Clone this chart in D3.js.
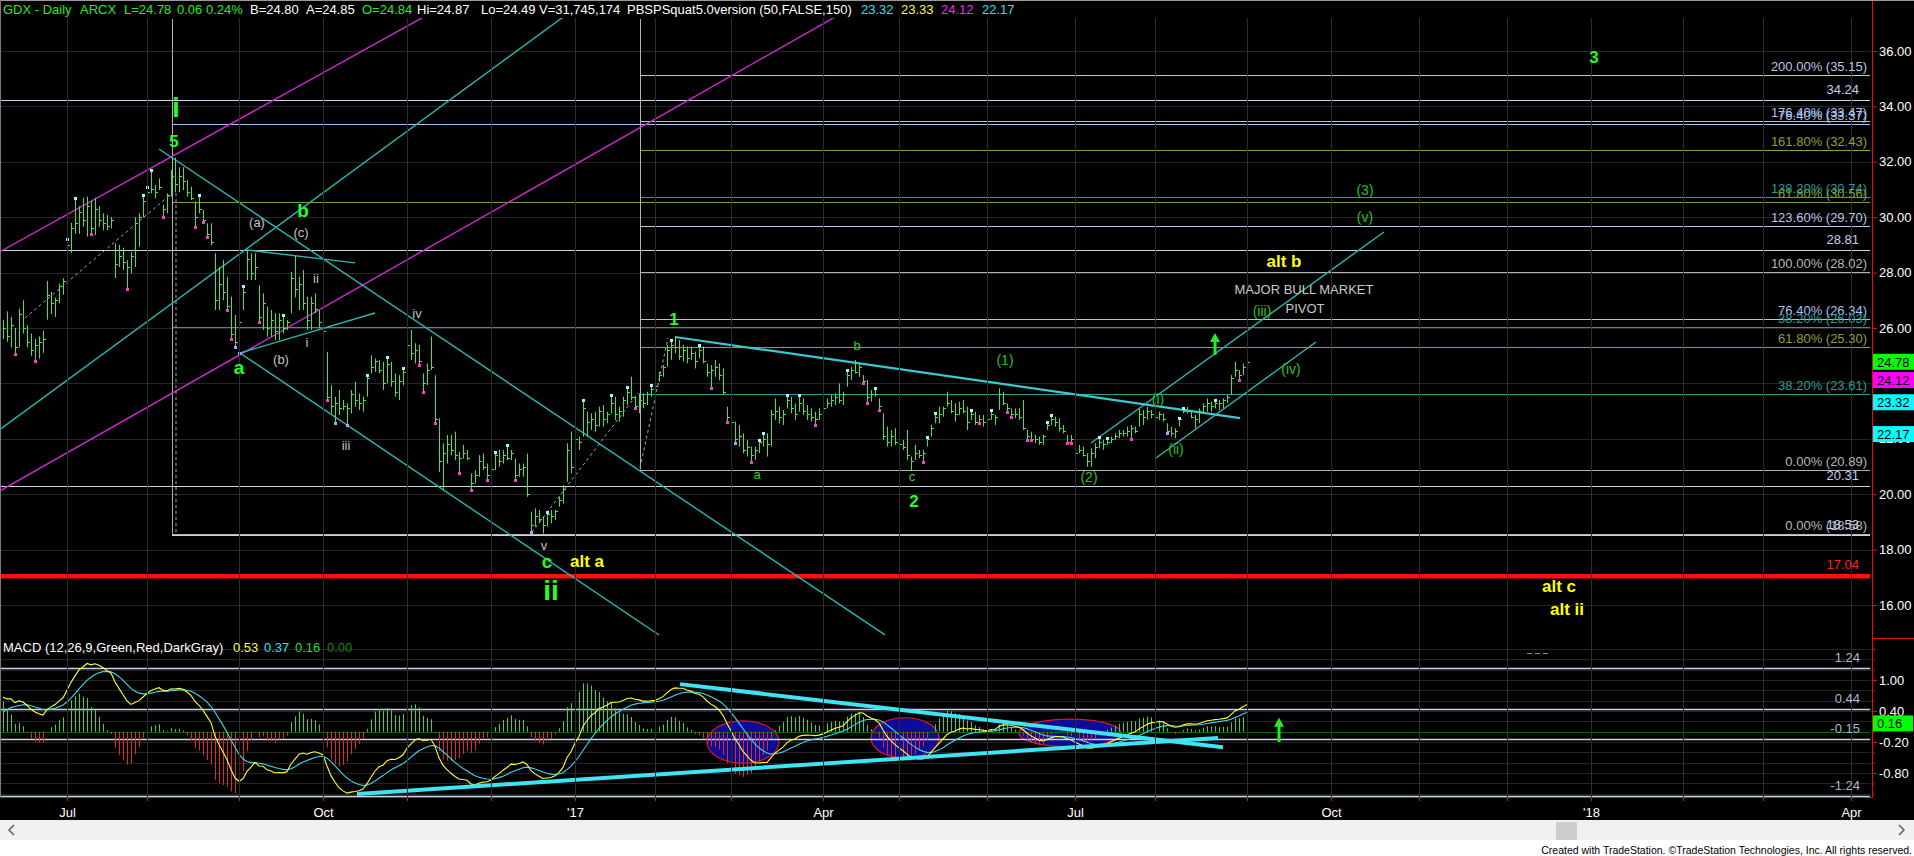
<!DOCTYPE html>
<html><head><meta charset="utf-8">
<script src="https://cdn.jsdelivr.net/npm/d3@7"></script>
<style>
html,body{margin:0;padding:0;background:#000;overflow:hidden}
svg{display:block}
text{font-family:"Liberation Sans",Arial,sans-serif}
</style></head><body>
<svg id="c" width="1914" height="856"></svg>
<script>
// ---------------- DATA ----------------
// daily bars, index 0 = 9 Jun 2016 ... index 311 = 1 Sep 2017
const highs=[26.3,26.6,26.4,26.0,26.7,27.0,26.1,25.8,25.6,25.7,
25.9,27.7,27.3,27.1,27.6,27.8,29.2,29.8,30.7,30.4,
30.7,30.74,30.6,30.7,30.4,30.14,30.08,30.0,29.05,29.0,
28.9,28.45,28.75,30.0,30.14,30.8,31.1,31.7,31.16,31.4,
30.44,30.86,31.7,32.15,31.8,31.8,31.34,31.1,30.56,30.8,
30.26,29.78,29.78,28.7,28.2,28.45,27.85,27.13,26.47,26.41,
27.5,28.81,28.7,28.7,27.55,27.25,26.77,26.65,26.53,26.53,
26.47,26.29,28.03,28.6,27.85,28.09,27.13,27.13,27.25,26.65,
26.53,25.14,23.94,23.52,23.76,23.4,23.28,23.76,24.06,23.64,
23.52,24.3,25.02,24.9,24.84,24.78,24.96,24.78,24.36,24.3,
24.54,25.63,25.93,25.45,25.39,24.36,24.72,25.69,24.3,22.74,
21.84,22.14,22.14,22.26,21.53,21.78,21.6,20.75,20.87,21.41,
21.47,21.11,21.11,21.53,21.6,21.6,21.78,21.6,21.29,21.11,
21.11,21.47,19.37,19.49,19.43,19.19,19.37,19.43,19.43,19.91,
20.33,21.84,22.26,22.14,22.08,23.4,22.98,22.92,22.98,23.16,
23.22,22.98,23.58,23.52,23.16,23.52,23.88,24.24,23.52,23.64,
23.64,23.7,23.94,24.0,24.42,24.66,25.39,25.57,25.69,25.57,
25.39,25.33,25.33,25.15,25.39,25.33,24.72,24.66,24.85,24.72,
24.54,23.16,23.04,22.62,22.5,22.2,21.96,21.72,21.72,21.96,
22.2,22.2,23.04,23.46,23.16,23.04,23.58,23.52,23.28,23.58,
23.46,23.22,23.1,22.98,23.1,23.22,23.46,23.58,23.64,24.0,
23.7,24.48,24.6,24.85,24.72,24.3,24.12,23.76,23.82,23.46,
22.92,22.44,22.32,22.38,22.26,21.96,22.32,21.36,21.78,21.6,
21.6,22.08,22.5,22.92,23.16,23.16,23.7,23.4,23.28,23.34,
23.4,23.16,23.04,22.98,22.86,22.86,22.8,23.04,22.86,23.82,
23.7,23.28,23.1,23.1,23.1,23.4,22.32,22.26,22.14,22.08,
22.14,22.62,22.86,22.8,22.74,22.5,22.14,22.14,21.78,21.78,
21.72,21.48,21.66,21.84,22.08,21.96,22.02,22.08,22.2,22.32,
22.32,22.44,22.5,22.44,23.1,23.04,23.16,23.04,23.16,22.98,
22.92,22.56,22.44,22.38,22.74,23.1,23.16,22.98,22.86,23.1,
23.28,23.46,23.34,23.4,23.4,23.46,23.58,24.3,24.78,24.48,
24.72,24.87];
const lows=[25.6,25.5,25.3,25.05,25.3,25.8,25.3,25.0,24.8,24.9,
25.1,26.3,26.5,26.4,26.9,27.2,28.45,28.7,29.4,29.4,
29.65,29.3,29.4,29.35,29.65,29.53,29.53,29.6,27.8,28.2,
28.1,27.4,27.97,28.2,28.93,30.0,30.4,30.86,30.68,30.98,
30.02,30.14,30.74,30.9,30.9,30.98,30.74,30.62,29.66,30.14,
29.84,29.3,28.99,26.65,26.65,27.0,26.65,25.62,25.32,25.08,
26.65,27.73,27.73,27.73,26.23,25.93,25.68,25.68,25.56,25.56,
25.8,25.93,26.53,27.1,26.65,26.65,25.93,25.93,26.53,25.99,
25.68,23.4,22.92,22.56,22.86,23.04,22.5,22.92,23.16,23.04,
22.98,23.52,24.36,24.42,24.36,23.76,24.0,23.88,23.52,23.4,
23.94,24.96,24.84,24.72,24.66,23.7,23.94,24.48,22.56,20.81,
20.15,21.11,21.41,21.23,20.75,21.29,21.23,20.15,20.39,20.63,
20.87,20.51,20.33,20.87,20.99,21.11,21.23,21.23,20.51,20.63,
20.63,19.91,18.65,18.83,18.95,18.58,18.83,18.95,19.07,19.55,
19.67,20.45,20.75,20.99,21.6,22.08,22.08,22.32,22.26,22.44,
22.44,22.56,22.92,22.68,22.62,22.8,23.22,23.4,23.1,22.92,
23.1,23.22,23.52,23.52,24.06,24.24,24.6,24.85,25.09,24.85,
24.79,24.72,24.85,24.54,24.91,24.72,24.24,23.82,24.24,24.12,
23.58,22.62,22.44,21.84,21.72,21.48,21.36,21.17,21.24,21.48,
21.72,21.36,21.72,22.68,22.56,22.5,23.1,22.92,22.68,22.98,
22.86,22.68,22.62,22.5,22.68,22.86,23.1,23.16,23.22,23.28,
23.22,23.88,24.12,24.36,24.24,24.0,23.28,23.34,23.52,23.04,
21.96,21.72,21.72,21.78,21.6,21.6,21.24,20.87,21.24,21.3,
21.17,21.72,22.08,22.56,22.56,22.8,23.16,22.92,22.62,22.86,
22.92,22.32,22.68,22.5,22.56,22.44,22.44,22.68,22.5,23.04,
23.22,22.98,22.8,22.74,22.68,22.32,21.96,21.96,21.84,21.78,
21.78,22.32,22.5,22.44,22.26,22.2,21.84,21.84,21.42,21.48,
21.36,20.99,20.99,21.3,21.66,21.6,21.78,21.84,21.96,22.02,
22.08,22.08,22.0,22.2,22.44,22.5,22.68,22.74,22.74,22.68,
22.62,22.2,22.08,22.02,22.44,22.92,22.92,22.74,22.38,22.56,
22.92,22.98,22.98,23.1,23.04,23.1,23.28,23.58,24.24,24.12,
24.3,24.49];
const closes=[26.0,25.7,26.1,25.3,26.5,26.0,25.5,25.2,25.4,25.5,
25.6,27.2,26.9,27.0,27.5,27.7,29.0,29.6,29.8,30.2,
29.9,30.4,29.6,30.3,29.9,29.8,29.7,29.9,28.3,28.6,
28.4,28.2,28.6,29.8,30.0,30.6,30.9,31.0,30.9,31.1,
30.3,30.8,31.5,31.2,31.5,31.3,30.9,30.7,30.0,30.3,
29.9,29.4,29.1,27.0,27.6,27.3,26.8,25.8,25.5,26.2,
27.3,28.5,28.0,28.2,26.4,26.9,26.0,26.3,25.9,26.3,
26.0,26.2,27.8,27.4,27.6,26.9,26.3,26.9,26.7,26.2,
25.9,23.5,23.2,23.3,23.1,23.2,23.1,23.6,23.4,23.3,
23.4,24.2,24.6,24.8,24.5,24.0,24.7,24.1,23.7,24.1,
24.4,25.4,25.1,25.2,24.8,24.0,24.5,24.6,22.7,21.2,
21.5,21.8,21.6,21.4,21.3,21.5,21.3,20.4,20.7,21.2,
21.0,20.7,20.9,21.4,21.2,21.4,21.3,21.5,20.7,20.9,
21.0,20.0,18.9,19.2,19.1,18.9,19.3,19.2,19.4,19.8,
20.2,21.6,21.0,22.0,21.9,23.1,22.6,22.7,22.5,23.0,
22.7,22.9,23.3,22.9,23.0,23.4,23.7,23.5,23.2,23.4,
23.3,23.6,23.8,23.9,24.3,24.6,25.2,25.4,25.3,25.0,
25.2,24.9,25.1,24.8,25.2,24.8,24.4,24.5,24.6,24.3,
23.7,22.8,22.6,22.0,22.1,21.6,21.7,21.4,21.6,21.9,
22.0,21.8,22.9,23.0,22.8,22.9,23.4,23.1,22.9,23.3,
23.0,22.9,22.8,22.7,22.9,23.1,23.3,23.4,23.5,23.4,
23.6,24.3,24.5,24.4,24.6,24.1,23.5,23.6,23.6,23.2,
22.1,21.9,22.1,21.9,21.8,21.7,21.4,21.2,21.5,21.4,
21.5,22.0,22.4,22.8,22.9,23.1,23.3,23.0,22.9,23.1,
23.0,22.6,22.9,22.6,22.7,22.6,22.7,22.9,22.8,23.6,
23.3,23.1,22.9,22.9,22.8,22.4,22.1,22.0,22.0,21.9,
22.1,22.5,22.7,22.6,22.4,22.3,21.9,22.0,21.5,21.6,
21.4,21.2,21.5,21.7,21.9,21.8,21.9,22.0,22.1,22.2,
22.2,22.3,22.4,22.3,22.9,22.8,23.0,22.9,22.8,22.9,
22.7,22.3,22.2,22.3,22.7,23.0,23.0,22.8,22.7,23.0,
23.2,23.3,23.2,23.3,23.3,23.4,23.5,24.2,24.5,24.3,
24.6,24.78];
// swing marker dots (bar indices)
const cyanDots=[16,18,35,36,37,49,60,70,91,96,100,123,126,136,145,152,156,162,167,174,189,190,196,199,211,218,231,233,242,247,261,262,274,276,294,295,303];
const pinkDots=[3,8,22,31,40,48,50,51,56,57,64,81,104,105,108,114,117,121,128,158,177,181,187,203,215,216,219,230,244,251,252,256,257,266,267,282,309];
const purpleDots=[58,59,83,86,132,183,291];
// time axis (bar index of first session of each month; future bars are weekdays)
const tickIdx=[16,36,59,80,101,122,143,163,182,205,224,246,268,288,311,332,354,376,397,420,440,462];
const tickLabels=['Jul','','','Oct','','',"'17",'','','Apr','','','Jul','','','Oct','','',"'18",'','','Apr'];
const priceTicks=[16,18,20,22,24,26,28,30,32,34,36];
const macdTicks=[1.0,0.4,-0.2,-0.8];
const macdMinor=[1.6,1.4,1.2,0.8,0.6,0.2,0.0,-0.4,-0.6,-1.0,-1.2];
// fib set A (starts at bar 159.25)
const fibAStart=159.25;
const fibALevels=[35.15,33.47,32.43,30.74,29.70,28.02,26.34,25.30,23.61,20.89];
const fibALabels=['200.00% (35.15)','176.40% (33.47)','161.80% (32.43)','138.20% (30.74)','123.60% (29.70)','100.00% (28.02)','76.40% (26.34)','61.80% (25.30)','38.20% (23.61)','0.00% (20.89)'];
// fib set B (starts at bar 42.25)
const fibBStart=42.25;
const fibBLevels=[33.37,30.56,26.03,18.58];
const fibBLabels=['76.40% (33.37)','61.80% (30.56)','38.20% (26.03)','0.00% (18.58)'];
// plain horizontal lines
const plainLevels=[34.24,28.81,20.31,18.53];
const plainStart=[-1,-1,-1,42.25];
const plainLabels=['34.24','28.81','20.31','18.53'];
const redLevel=17.04;
// last value boxes on price axis
const quoteValues=[24.78,24.12,23.32,22.17];
// MACD reference lines
const macdLevels=[1.24,0.44,-0.15,-1.24];
// MACD seeds (EMA12, EMA26, signal) before first bar
const macdSeed=[25.4,24.73,0.30];
const macdLast=['0.53','0.37','0.16','0.00'];
const macdBox=0.16;
// drawn trendlines [ [i0,p0],[i1,p1] ]
const magentaLines=[[[-0.75,28.755],[110,37.615]],[[-0.75,20.12],[210,37.39]]];
const tealLines=[[[-0.75,22.343],[140,37.22]],[[39,32.462],[220.5,14.92]],[[59.25,25.097],[164,14.917]],
  [[61,28.816],[88,28.35]],[[59.25,25.097],[93,26.54]],
  [[272,21.85],[345.25,29.466]],[[288.25,21.307],[328.25,25.495]]];
const triangleLine=[[168,25.675],[309.25,22.75]];
const dottedLines=[[[5.5,26.36],[41.75,30.80]],[[43.25,30.87],[43.25,18.58]],[[132.25,18.635],[158.75,23.65]],[[159.25,20.946],[166.25,25.64]]];
const verticalLines=[[42.25,37.155,18.58],[159.25,37.155,20.89]];
const priceArrow=[303,25.82,25.03];
// MACD pane drawings
const macdTrend=[[[169.25,0.92],[305,-0.30]],[[88.5,-1.205],[303.75,-0.12]]];
const macdEllipses=[[185,-0.20,9,0.41],[225.5,-0.12,8.5,0.39],[266.75,-0.025,12.75,0.27]];
const macdArrow=[319,0.27,-0.20];
// wave labels: [text, barIndex, price(baseline), kind]
const waveLabels=[
 ['i',43.25,33.617,'GB'],['5',42.75,32.534,'G'],['b',75,30.007,'G2'],['a',59,24.339,'G2'],
 ['c',136,17.336,'G2'],['ii',137,16.18,'GB'],['1',167.75,26.108,'G'],['2',227.75,19.538,'G'],['3',397.75,35.567,'G'],
 ['alt a',146,17.372,'Y'],['alt b',320.25,28.202,'Y'],['alt c',389,16.469,'Y'],['alt ii',391,15.639,'Y'],
 ['(a)',63.5,29.646,'W'],['(c)',74.5,29.285,'W'],['ii',78.25,27.625,'W'],['i',76,25.314,'W'],['(b)',69.5,24.70,'W'],
 ['iv',103.5,26.361,'W'],['iii',85.75,21.596,'W'],['v',135.25,17.986,'W'],
 ['b',213.5,25.206,'g'],['a',188.5,20.549,'g'],['c',227.25,20.477,'g'],
 ['(1)',250.5,24.664,'P'],['(2)',271.5,20.44,'P'],['(i)',288.75,23.256,'P'],['(ii)',293.25,21.451,'P'],
 ['(iii)',314.75,26.433,'P'],['(iv)',322,24.339,'P'],['(v)',340.5,29.827,'P'],['(3)',340.5,30.80,'P'],
 ['MAJOR BULL MARKET',325.25,27.227,'T'],['PIVOT',325.5,26.542,'T']];
// header
const headerParts=[['GDX - Daily',3,'g'],['ARCX',80,'g'],['L=24.78',124,'g'],['0.06',177,'g'],['0.24%',206,'g'],
 ['B=24.80',250,'w'],['A=24.85',306,'w'],['O=24.84',362,'g'],['Hi=24.87',417,'w'],['Lo=24.49',481,'w'],
 ['V=31,745,174',539,'w'],['PBSPSquat5.0version (50,FALSE,150)',627,'w'],['23.32',861,'c'],['23.33',901,'y'],['24.12',941,'m'],['22.17',982,'c']];

// ---------------- DRAW ----------------
const W=1914,H=856,PR=1871;
const svg=d3.select('#c');
const x=d3.scaleLinear().domain([0,467]).range([3,1871]);
const y=d3.scaleLinear().domain([14.81,37.84]).range([638,0]);
const ym=d3.scaleLinear().domain([-1.263,1.754]).range([797,641]);
const FONT='"Liberation Sans",Arial,sans-serif';
svg.append('rect').attr('width',W).attr('height',H).attr('fill','#000');
const defs=svg.append('defs');
defs.append('clipPath').attr('id','pc').append('rect').attr('x',0).attr('y',18).attr('width',PR).attr('height',620);
defs.append('clipPath').attr('id','mc').append('rect').attr('x',0).attr('y',641).attr('width',PR).attr('height',156);
const gp=svg.append('g').attr('clip-path','url(#pc)');
const gm=svg.append('g').attr('clip-path','url(#mc)');
const r5=v=>Math.round(v)+0.5;

// grids
tickIdx.forEach(t=>{svg.append('line').attr('x1',r5(x(t))).attr('x2',r5(x(t))).attr('y1',18).attr('y2',797).attr('stroke','#2c2c2c');});
priceTicks.forEach(p=>{gp.append('line').attr('x1',0).attr('x2',PR).attr('y1',r5(y(p))).attr('y2',r5(y(p))).attr('stroke','#262626');});
d3.range(-12,17,2).forEach(k=>{const v=k/10;gm.append('line').attr('x1',0).attr('x2',PR).attr('y1',r5(ym(v))).attr('y2',r5(ym(v))).attr('stroke','#242424');});

// horizontal level lines
const LBLUE='#b4c8e8',OLIVE='#9c9c36',TEAL='#2a9c98',GRAY='#b4b4b4';
const fibAColors=[LBLUE,'#a8c4f0',OLIVE,TEAL,LBLUE,GRAY,'#a8c4f0',OLIVE,TEAL,GRAY];
const fibBColors=['#a8c4f0','#7aa23c',TEAL,GRAY];
function hline(p,i0,color,w){gp.append('line').attr('x1',Math.max(0,x(i0))).attr('x2',1870).attr('y1',r5(y(p))).attr('y2',r5(y(p))).attr('stroke',color).attr('stroke-width',w||1.2);}
function rlabel(txt,xx,yy,color){svg.append('text').attr('x',xx).attr('y',yy).attr('text-anchor','end').attr('fill',color).attr('font-size',13).attr('font-family',FONT).text(txt);}
plainLevels.forEach((p,k)=>{hline(p,plainStart[k],'#c8d4ec',1.2);});
fibBLevels.forEach((p,k)=>hline(p,fibBStart,fibBColors[k],1.2));
fibALevels.forEach((p,k)=>hline(p,fibAStart,fibAColors[k],1.2));
gp.append('line').attr('x1',0).attr('x2',1870).attr('y1',y(redLevel)).attr('y2',y(redLevel)).attr('stroke','#ff1010').attr('stroke-width',4.5);

// vertical lines
verticalLines.forEach(v=>{gp.append('line').attr('x1',r5(x(v[0]))).attr('x2',r5(x(v[0]))).attr('y1',y(v[1])).attr('y2',y(v[2])).attr('stroke','#b0b0b0').attr('stroke-width',1);});
// trendlines
function seg(g,sc,a,b,color,w,dash){const l=g.append('line').attr('x1',x(a[0])).attr('y1',sc(a[1])).attr('x2',x(b[0])).attr('y2',sc(b[1])).attr('stroke',color).attr('stroke-width',w);if(dash)l.attr('stroke-dasharray',dash);return l;}
magentaLines.forEach(l=>seg(gp,y,l[0],l[1],'#d428d4',1.4));
tealLines.forEach(l=>seg(gp,y,l[0],l[1],'#2cb6b0',1.4));
seg(gp,y,triangleLine[0],triangleLine[1],'#3cc8d0',2.2);
dottedLines.forEach(l=>seg(gp,y,l[0],l[1],'#a8a8a8',1,'3,3'));

// bars
const BAR='#44e844';
const gb=gp.append('g');
highs.forEach((h,i)=>{
  const xx=r5(x(i));
  gb.append('line').attr('x1',xx).attr('x2',xx).attr('y1',y(h)).attr('y2',y(lows[i])).attr('stroke',BAR).attr('stroke-width',1);
  gb.append('line').attr('x1',xx).attr('x2',xx+2.5).attr('y1',r5(y(closes[i]))).attr('y2',r5(y(closes[i]))).attr('stroke',BAR).attr('stroke-width',1);
});
function dots(arr,getP,color){arr.forEach(i=>{gp.append('rect').attr('x',Math.round(x(i))-1).attr('y',Math.round(y(getP(i)))-1).attr('width',3).attr('height',3).attr('fill',color);});}
dots(cyanDots,i=>highs[i],'#9ff8ff');
dots(pinkDots,i=>lows[i],'#ff3cc8');
dots(purpleDots,i=>lows[i],'#b89cff');

// arrows
function arrow(g,xx,yTip,yTail,color){
  g.append('rect').attr('x',xx-1.5).attr('y',yTip+6).attr('width',3).attr('height',yTail-yTip-6).attr('fill',color);
  g.append('path').attr('d',`M${xx-5},${yTip+9}L${xx},${yTip}L${xx+5},${yTip+9}Z`).attr('fill',color);
}
arrow(gp,x(priceArrow[0]),y(priceArrow[1]),y(priceArrow[2]),'#22ee22');

// level labels
fibALevels.forEach((p,k)=>rlabel(fibALabels[k],1867,y(p)-4,fibAColors[k]==GRAY?'#b8b8b8':fibAColors[k]));
fibBLevels.forEach((p,k)=>rlabel(fibBLabels[k],1867,y(p)-4,fibBColors[k]==GRAY?'#b8b8b8':fibBColors[k]));
plainLevels.forEach((p,k)=>rlabel(plainLabels[k],1859,y(p)-6,'#c0d0ee'));
rlabel(redLevel.toFixed(2),1859,y(redLevel)-7,'#ff2020');

// wave labels
const LS={GB:[28,'bold','#22ff22'],G:[17,'bold','#22ff22'],G2:[19,'bold','#22ff22'],Y:[17,'bold','#ffff00'],
  W:[13,'normal','#c4c4c4'],g:[13,'normal','#2ed02e'],P:[14,'normal','#26c026'],T:[13,'normal','#c8c8c8']};
waveLabels.forEach(l=>{const s=LS[l[3]];
  svg.append('text').attr('x',x(l[1])).attr('y',y(l[2])).attr('text-anchor','middle').attr('font-size',s[0]).attr('font-weight',s[1]).attr('fill',s[2]).attr('font-family',FONT).text(l[0]);});

// ---------- MACD ----------
const k12=2/13,k26=2/27,k9=2/10;
let e12=macdSeed[0],e26=macdSeed[1],sg=macdSeed[2];
const macd=[],signal=[],hist=[];
closes.forEach(c=>{e12=c*k12+e12*(1-k12);e26=c*k26+e26*(1-k26);const m=e12-e26;sg=m*k9+sg*(1-k9);macd.push(m);signal.push(sg);hist.push(m-sg);});
const HIST_GAIN=2; // histogram drawn at twice the line scale, as in the source chart

macdEllipses.forEach(e=>{gm.append('ellipse').attr('cx',x(e[0])).attr('cy',ym(e[1])).attr('rx',x(e[0]+e[2])-x(e[0])).attr('ry',ym(e[1]-e[3])-ym(e[1])).attr('fill','#0c0c96').attr('stroke','#e01818').attr('stroke-width',1.2);});
macdLevels.forEach(v=>{gm.append('line').attr('x1',0).attr('x2',1870).attr('y1',r5(ym(v))).attr('y2',r5(ym(v))).attr('stroke','#cdd4e8').attr('stroke-width',1.3);});
macdLevels.forEach(v=>rlabel(v.toFixed(2),1860,ym(v)-6,'#a8b8d8'));
gm.append('line').attr('x1',0).attr('x2',1870).attr('y1',r5(ym(0))).attr('y2',r5(ym(0))).attr('stroke','#0a6a0a');
hist.forEach((h,i)=>{gm.append('line').attr('x1',r5(x(i))).attr('x2',r5(x(i))).attr('y1',ym(0)).attr('y2',ym(h*HIST_GAIN)).attr('stroke',h>=0?'#3ad83a':'#e02a2a').attr('stroke-width',1);});
const lineGen=d3.line().x((d,i)=>x(i)).y(d=>ym(d));
gm.append('path').attr('d',lineGen(signal)).attr('fill','none').attr('stroke','#3fd8e8').attr('stroke-width',1.1);
gm.append('path').attr('d',lineGen(macd)).attr('fill','none').attr('stroke','#ffff3a').attr('stroke-width',1.1);
macdTrend.forEach(l=>seg(gm,ym,l[0],l[1],'#3ee4f4',4));
arrow(gm,x(macdArrow[0]),ym(macdArrow[1]),ym(macdArrow[2]),'#22ee22');
gm.append('line').attr('x1',1527).attr('x2',1551).attr('y1',653.5).attr('y2',653.5).attr('stroke','#8a8a8a').attr('stroke-dasharray','5,3');

// ---------- AXES ----------
const RED='#e01010';
svg.append('line').attr('x1',1872.5).attr('x2',1872.5).attr('y1',0).attr('y2',797).attr('stroke',RED);
svg.append('line').attr('x1',1872).attr('x2',W).attr('y1',638.5).attr('y2',638.5).attr('stroke',RED);
svg.append('line').attr('x1',0).attr('x2',1873).attr('y1',797.5).attr('y2',797.5).attr('stroke',RED);
function styleAxis(g){g.select('.domain').remove();g.selectAll('.tick line').attr('stroke',RED);g.selectAll('text').attr('fill','#fff').attr('font-size',13).attr('font-family',FONT);}
const ay=svg.append('g').attr('transform','translate(1872,0)').call(d3.axisRight(y).tickValues(priceTicks).tickFormat(d=>d.toFixed(2)).tickSize(5).tickPadding(2));
styleAxis(ay);
const am=svg.append('g').attr('transform','translate(1872,0)').call(d3.axisRight(ym).tickValues(macdTicks).tickFormat(d=>d.toFixed(2)).tickSize(5).tickPadding(2));
styleAxis(am);
const am2=svg.append('g').attr('transform','translate(1872,0)').call(d3.axisRight(ym).tickValues(macdMinor).tickFormat('').tickSize(3));
styleAxis(am2);
const ax=svg.append('g').attr('transform','translate(0,797)').call(d3.axisBottom(x).tickValues(tickIdx).tickFormat((d,i)=>tickLabels[i]).tickSize(4).tickPadding(7));
styleAxis(ax);

// value boxes
const quoteColors=['#00ff00','#ff00ff','#00ffff','#00ffff'];
quoteValues.forEach((v,k)=>{const yy=y(v);
  svg.append('rect').attr('x',1873).attr('y',yy-8).attr('width',41).attr('height',16).attr('fill',quoteColors[k]);
  svg.append('text').attr('x',1877).attr('y',yy+5).attr('fill','#000').attr('font-size',13).attr('font-family',FONT).text(v.toFixed(2));});
svg.append('rect').attr('x',1873).attr('y',ym(macdBox)-8).attr('width',40).attr('height',16).attr('fill','#00ff00');
svg.append('text').attr('x',1877).attr('y',ym(macdBox)+5).attr('fill','#000').attr('font-size',13).attr('font-family',FONT).text(macdBox.toFixed(2));

// borders
svg.append('line').attr('x1',0).attr('x2',W).attr('y1',0.5).attr('y2',0.5).attr('stroke','#9a9a9a');
svg.append('line').attr('x1',0.5).attr('x2',0.5).attr('y1',0).attr('y2',797).attr('stroke','#7a7a7a');

// header
const HC={g:'#22ee22',w:'#ffffff',c:'#22e8e8',y:'#ffff22',m:'#ff22ff'};
headerParts.forEach(h=>svg.append('text').attr('x',h[1]).attr('y',14).attr('fill',HC[h[2]]).attr('font-size',13).attr('font-family',FONT).text(h[0]));
const mh=[['MACD (12,26,9,Green,Red,DarkGray)',3,'#ffffff'],[macdLast[0],233,'#ffff22'],[macdLast[1],264,'#22e8e8'],[macdLast[2],295,'#22dd22'],[macdLast[3],327,'#118811']];
mh.forEach(h=>svg.append('text').attr('x',h[1]).attr('y',652).attr('fill',h[2]).attr('font-size',13).attr('font-family',FONT).text(h[0]));

// scrollbar + footer
svg.append('rect').attr('x',0).attr('y',820).attr('width',W).attr('height',20).attr('fill','#f0f0f0');
svg.append('rect').attr('x',1556).attr('y',822).attr('width',21).attr('height',18).attr('fill','#cdcdcd');
svg.append('path').attr('d','M14,825L9,830L14,835').attr('fill','none').attr('stroke','#606060').attr('stroke-width',1.5);
svg.append('path').attr('d','M1899,825L1904,830L1899,835').attr('fill','none').attr('stroke','#606060').attr('stroke-width',1.5);
svg.append('rect').attr('x',0).attr('y',840).attr('width',W).attr('height',16).attr('fill','#ffffff');
svg.append('text').attr('x',1912).attr('y',854).attr('text-anchor','end').attr('fill','#000').attr('font-size',10.5).attr('font-family',FONT).text('Created with TradeStation. \u00A9TradeStation Technologies, Inc. All rights reserved.');
</script></body></html>
